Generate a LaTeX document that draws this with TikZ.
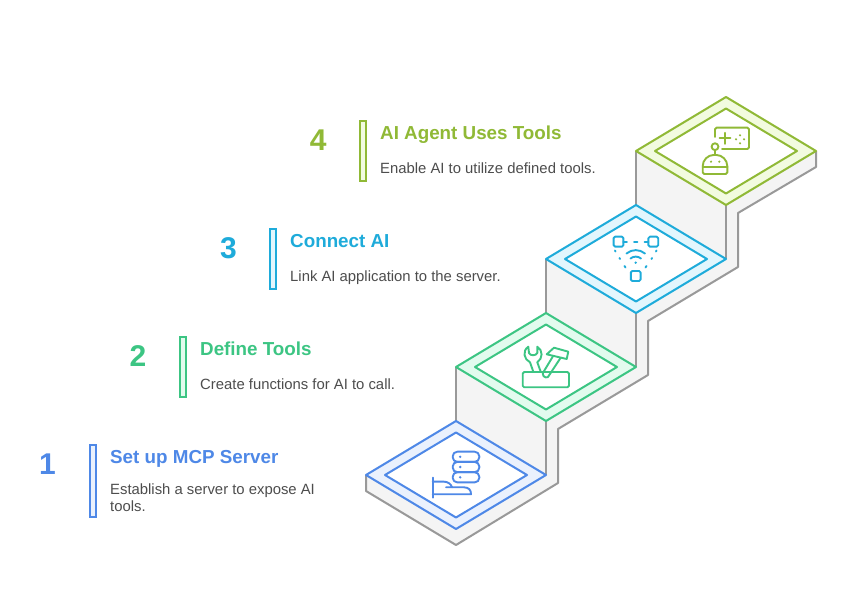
\documentclass[tikz,border=0pt]{standalone}
\usepackage{fontspec}
\setmainfont{Liberation Sans}
\definecolor{cblue}{HTML}{4E88E7}
\definecolor{fblue}{HTML}{EAF1FD}
\definecolor{cgreen}{HTML}{3CC583}
\definecolor{fgreen}{HTML}{E2FBEE}
\definecolor{ccyan}{HTML}{1EABDA}
\definecolor{fcyan}{HTML}{E2F6FD}
\definecolor{colive}{HTML}{90B936}
\definecolor{folive}{HTML}{F2FBDF}
\definecolor{cside}{HTML}{F4F4F4}
\definecolor{cedge}{HTML}{999999}
\definecolor{ctext}{HTML}{4D4D4D}
\tikzset{
  edge/.style={draw=cedge,line width=2pt,line join=round},
  outer/.style={line width=2pt,line join=round},
  inner/.style={line width=2pt,line join=round,fill=white},
  bar/.style={line width=2pt},
  ico/.style={line width=1.9pt,line cap=round,line join=round,fill=none},
  num/.style={anchor=base,font=\fontsize{30}{30}\selectfont\bfseries,inner sep=0pt},
  ttl/.style={anchor=base west,font=\fontsize{18.8}{20}\selectfont\bfseries,inner sep=0pt},
  dsc/.style={anchor=base west,font=\fontsize{14.85}{17}\selectfont,text=ctext,inner sep=0pt},
}
\newcommand{\topface}[4]{%
  \draw[outer,draw=#3,fill=#4] (#1-90,#2) -- (#1,#2-54) -- (#1+90,#2) -- (#1,#2+54) -- cycle;
  \draw[inner,draw=#3] (#1-71,#2) -- (#1,#2-42.5) -- (#1+71,#2) -- (#1,#2+42.5) -- cycle;
}
\begin{document}
\begin{tikzpicture}[x=1pt,y=-1pt]
\useasboundingbox (0,0) rectangle (852,601);
\fill[white] (0,0) rectangle (852,601);
% stair body
\fill[cside] (366,475) -- (366,491) -- (456,545) -- (558,483) -- (558,429) -- (648,375) -- (648,321) -- (738,267) -- (738,213) -- (816,167) -- (816,151) -- (726,97) -- (636,151) -- (636,205) -- (546,259) -- (546,313) -- (456,367) -- (456,421) -- cycle;
\draw[edge] (366,475) -- (366,491) -- (456,545) -- (558,483) -- (558,429) -- (648,375) -- (648,321) -- (738,267) -- (738,213) -- (816,167) -- (816,151);
\draw[edge] (456,367) -- (456,421);
\draw[edge] (546,259) -- (546,313);
\draw[edge] (636,151) -- (636,205);
\draw[edge] (546,421) -- (546,475);
\draw[edge] (636,313) -- (636,367);
\draw[edge] (726,205) -- (726,259);
\topface{726}{151}{colive}{folive}
\topface{636}{259}{ccyan}{fcyan}
\topface{546}{367}{cgreen}{fgreen}
\topface{456}{475}{cblue}{fblue}
% icon 1
\begin{scope}[ico,draw=cblue]
\draw[rounded corners=4.6pt] (452.7,451.7) rectangle (479.3,461.9);
\draw[rounded corners=4.6pt] (452.7,461.9) rectangle (479.3,472.2);
\draw[rounded corners=4.6pt] (452.7,472.2) rectangle (479.3,482.4);
\fill[cblue] (460.2,456.8) circle (1.3) (460.2,467) circle (1.3) (460.2,477.3) circle (1.3);
\draw (432.7,477.7) -- (432.7,497.7);
\draw (432.7,481.7) -- (444,481.7) .. controls (448,481.7) and (451,484) .. (452,487.3) -- (446,487.3);
\draw (452,487.3) -- (464,487.3) .. controls (469,487.5) and (471,490) .. (471,494.3) -- (432.7,494.3);
\end{scope}
% icon 2
\begin{scope}[ico,draw=cgreen]
\draw[rounded corners=1.5pt] (522.7,372) rectangle (569,387.3);
\draw (533.3,371.7) -- (530,362.3) .. controls (524,359.5) and (522,351) .. (528.3,346.7) -- (529,353) .. controls (530,356) and (536,356) .. (537.3,353) -- (537.3,346.7) .. controls (543,350) and (543,358.5) .. (537.3,362.3) -- (540.7,371.7);
\draw (546.7,354.3) -- (554,347.7) -- (568.3,351.7) -- (566.7,359) -- cycle;
\draw (552.7,356.7) -- (542.7,373.3) .. controls (542.5,378) and (548.5,379) .. (549.3,375) -- (560.7,357.7);
\end{scope}
% icon 3
\begin{scope}[ico,draw=ccyan]
\draw[rounded corners=1.5pt] (613.6,236.7) rectangle (623.4,246.7);
\draw[rounded corners=1.5pt] (648.4,236.7) rectangle (658.2,246.7);
\draw[rounded corners=1.5pt] (630.8,271) rectangle (640.6,281);
\draw (623.4,241.7) -- (627,241.7) (634,241.7) -- (637.5,241.7) (644.5,241.7) -- (648.4,241.7);
\draw (615,250.5) -- (615.5,251.5) (619.5,258) -- (620,259) (624.5,266) -- (625.5,267.5);
\draw (656.5,250.5) -- (656,251.5) (652,258) -- (651.5,259) (646.5,266) -- (645.5,267.5);
\draw (626.5,253.5) .. controls (632,249) and (639.5,249) .. (645,253.5);
\draw (630.5,258.5) .. controls (633.5,256) and (638,256) .. (641,258.5);
\fill[ccyan] (635.7,262.7) circle (1.3);
\end{scope}
% icon 4
\begin{scope}[ico,draw=colive]
\draw[rounded corners=1.5pt] (715,137) -- (715,127.7) -- (749,127.7) -- (749,149) -- (722,149);
\draw (725,132.8) -- (725,143.8) (719.5,138.3) -- (730.5,138.3);
\fill[colive] (736,139.3) circle (1.2) (744,139.3) circle (1.2) (740,135.3) circle (1.2) (740,143.3) circle (1.2);
\draw (715,146.7) circle (3.4);
\draw (715,150.1) -- (715,155);
\draw[rounded corners=1.5pt] (702.7,174) -- (702.7,167.5) .. controls (702.7,160) and (708,155) .. (715,155) .. controls (722,155) and (727.3,160) .. (727.3,167.5) -- (727.3,174) -- cycle;
\draw (702.7,167.3) -- (727.3,167.3);
\fill[colive] (711,161.7) circle (1.2) (719.3,161.7) circle (1.2);
\end{scope}
% bars
\draw[bar,draw=cblue,fill=fblue] (90,445) rectangle (96,517);
\draw[bar,draw=cgreen,fill=fgreen] (180,337) rectangle (186,397);
\draw[bar,draw=ccyan,fill=fcyan] (270,229) rectangle (276,289);
\draw[bar,draw=colive,fill=folive] (360,121) rectangle (366,181);
% texts
\node[num,text=cblue] (n1) at (47.5,474.5) {1};
\node[num,text=cgreen] (n2) at (138,366.5) {2};
\node[num,text=ccyan] (n3) at (228.5,258.5) {3};
\node[num,text=colive] (n4) at (318.3,150.5) {4};
\node[ttl,text=cblue] (t1) at (110,463.5) {Set up MCP Server};
\node[ttl,text=cgreen] (t2) at (200,355.5) {Define Tools};
\node[ttl,text=ccyan] (t3) at (290,247.5) {Connect AI};
\node[ttl,text=colive] (t4) at (380,139.5) {AI Agent Uses Tools};
\node[dsc] (d1a) at (110,495) {Establish a server to expose AI};
\node[dsc] (d1b) at (110,512) {tools.};
\node[dsc] (d2) at (200,390) {Create functions for AI to call.};
\node[dsc] (d3) at (290,282) {Link AI application to the server.};
\node[dsc] (d4) at (380,174) {Enable AI to utilize defined tools.};
\end{tikzpicture}
\end{document}
